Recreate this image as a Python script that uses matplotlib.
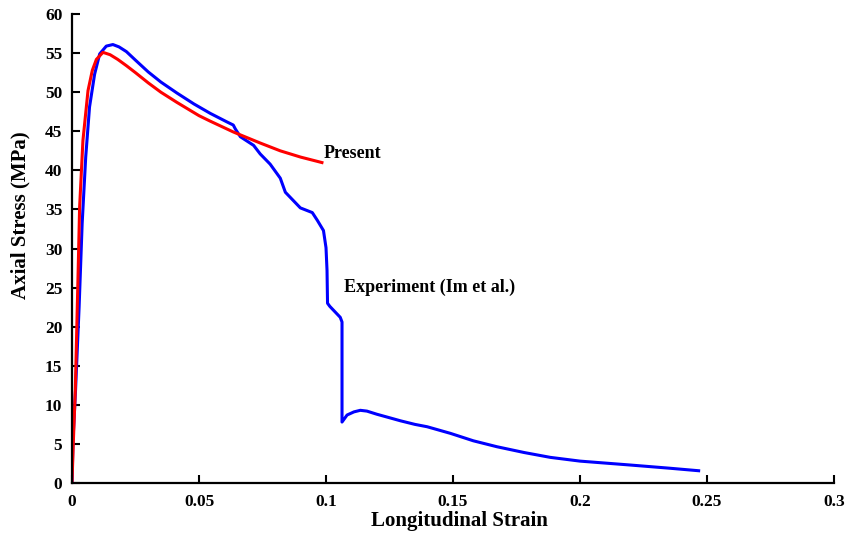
import matplotlib
matplotlib.use('Agg')
import matplotlib.pyplot as plt

# Experiment (Im et al.)
exp_strain = [0, 0.0004, 0.0014, 0.0028, 0.004, 0.0054, 0.0069, 0.0089, 0.0109, 0.0135,
              0.0161, 0.0185, 0.0214, 0.025, 0.03, 0.035, 0.0413, 0.048, 0.0544, 0.061,
              0.0635, 0.0643, 0.0663, 0.0715, 0.0741, 0.078, 0.082, 0.084, 0.0899, 0.0946,
              0.0966, 0.099, 0.1000, 0.1004, 0.1006, 0.1015, 0.1056, 0.1063, 0.1063, 0.1083,
              0.111, 0.1135, 0.1161, 0.120, 0.125, 0.1293, 0.135, 0.1398, 0.149, 0.158,
              0.1673, 0.178, 0.1883, 0.200, 0.2198, 0.235, 0.2467]
exp_stress = [0, 5.5, 11.9, 22.5, 33.2, 41.7, 48.1, 52.3, 54.9, 55.9,
              56.1, 55.8, 55.2, 54.1, 52.6, 51.3, 49.9, 48.5, 47.3, 46.2,
              45.8, 45.3, 44.3, 43.2, 42.1, 40.8, 39.0, 37.2, 35.2, 34.6,
              33.6, 32.3, 30.1, 27.2, 23.0, 22.6, 21.2, 20.6, 7.8, 8.7,
              9.1, 9.3, 9.2, 8.8, 8.35, 7.96, 7.5, 7.2, 6.35, 5.4,
              4.64, 3.9, 3.28, 2.8, 2.3, 1.9, 1.57]

# Present model
pre_strain = [0, 0.0005, 0.0013, 0.0024, 0.003, 0.0043, 0.0063, 0.0080, 0.0096, 0.0122,
              0.015, 0.018, 0.0214, 0.025, 0.03, 0.035, 0.0413, 0.05, 0.0544, 0.0636,
              0.0741, 0.082, 0.09, 0.0984]
pre_stress = [0, 5.0, 11.9, 26.8, 35.3, 43.8, 50.2, 52.8, 54.2, 55.1,
              54.8, 54.2, 53.4, 52.5, 51.2, 50.0, 48.7, 47.0, 46.3, 44.9,
              43.5, 42.5, 41.7, 41.0]

xticks = [0, 0.05, 0.1, 0.15, 0.2, 0.25, 0.3]
xtick_labels = ['0', '0.05', '0.1', '0.15', '0.2', '0.25', '0.3']
yticks = list(range(0, 61, 5))

plt.rcParams['font.family'] = ['Liberation Serif', 'DejaVu Serif']
plt.rcParams['font.weight'] = 'bold'

fig = plt.figure(figsize=(8.47, 5.41), dpi=100)
ax = fig.add_axes([0.085, 0.1072, 0.8997, 0.8668])

ax.plot(exp_strain, exp_stress, color='#0000ff', lw=2.2, solid_joinstyle='round')
ax.plot(pre_strain, pre_stress, color='#ff0000', lw=2.2, solid_joinstyle='round')

ax.text(0.0992, 42.1, 'Present', fontsize=13, fontweight='bold', va='center', ha='left')
ax.text(0.1072, 25.0, 'Experiment (Im et al.)', fontsize=13, fontweight='bold',
        va='center', ha='left')

ax.set_xlim(0, 0.3)
ax.set_ylim(0, 60)
ax.set_xticks(xticks)
ax.set_xticklabels(xtick_labels)
ax.set_yticks(yticks)

for s in ['top', 'right']:
    ax.spines[s].set_visible(False)
for s in ['left', 'bottom']:
    ax.spines[s].set_linewidth(1.6)

ax.tick_params(direction='in', length=6, width=1.5, labelsize=12.5)
ax.tick_params(axis='y', pad=7)
ax.tick_params(axis='x', pad=8)

ax.set_xlabel('Longitudinal Strain', fontsize=15, fontweight='bold')
ax.set_ylabel('Axial Stress (MPa)', fontsize=15, fontweight='bold')
ax.xaxis.set_label_coords(0.509, -0.060)
ax.yaxis.set_label_coords(-0.055, 0.571)

fig.savefig('out.png', dpi=100)
